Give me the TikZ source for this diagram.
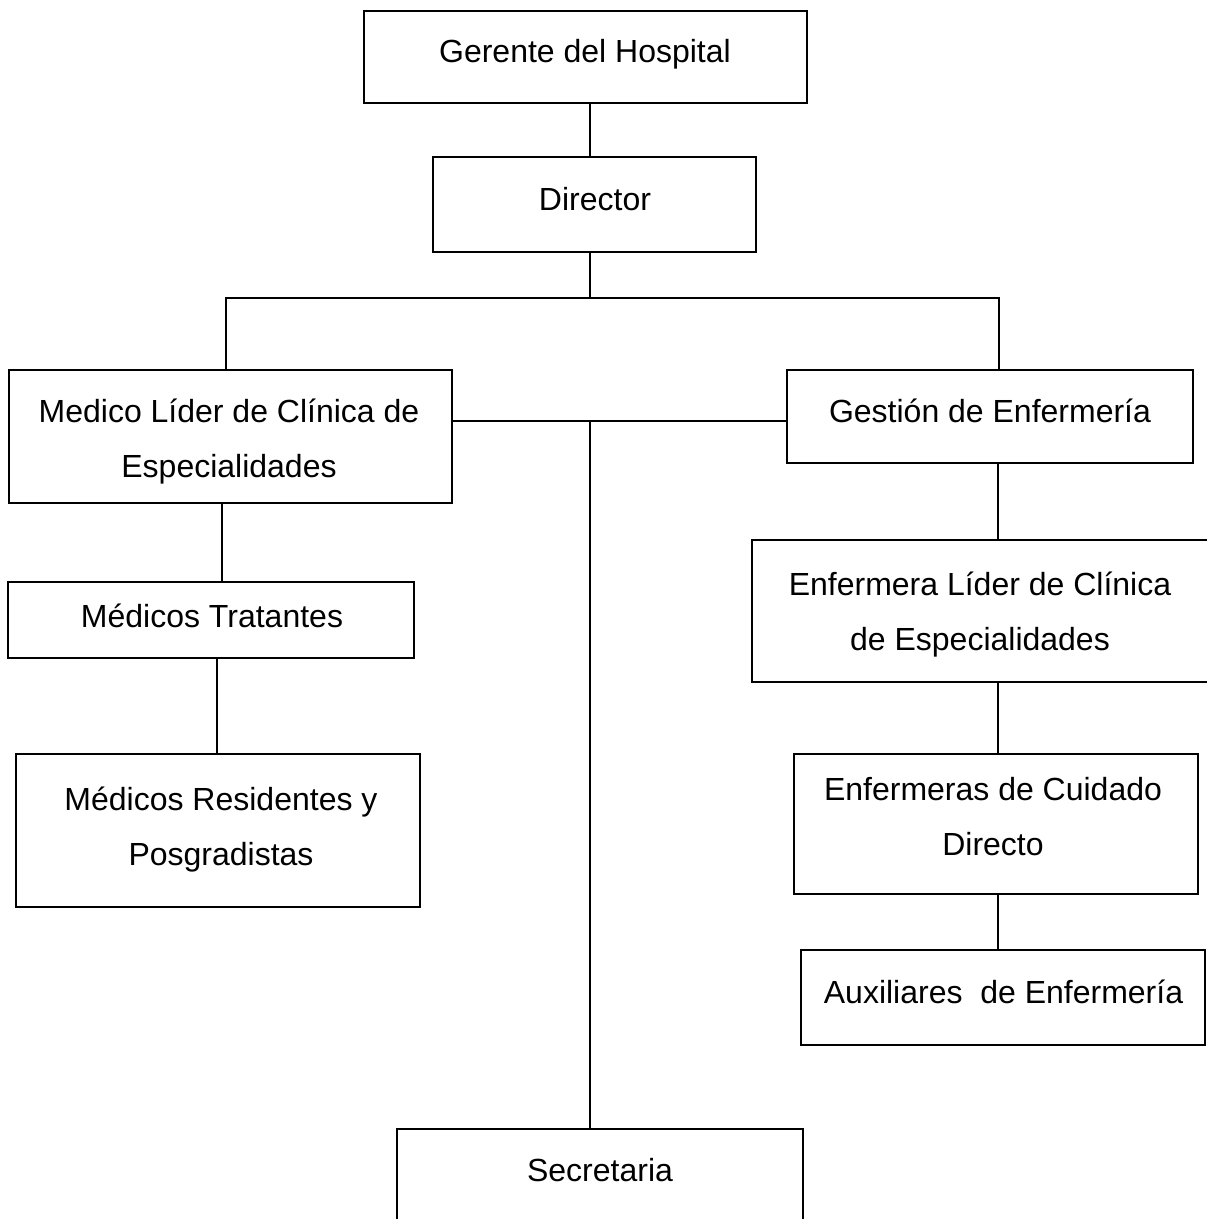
\documentclass[tikz,border=0pt]{standalone}
\usepackage{fontspec}
\setmainfont{Liberation Sans}
\begin{document}
\begin{tikzpicture}[x=1pt,y=-1pt,
  box/.style={draw=black,line width=1.5pt,rectangle,inner sep=0pt,outer sep=0pt,fill=white},
  lbl/.style={anchor=base,align=center,inner sep=0pt,font=\fontsize{32}{55}\selectfont},
  link/.style={draw=black,line width=1.5pt}]
\useasboundingbox[fill=white] (0,0) rectangle (1207,1219);

% boxes of the organisation chart
\node[box,minimum width=443pt,minimum height=92pt]  (ger) at (585.5,57)   {};
\node[box,minimum width=323pt,minimum height=95pt]  (dir) at (594.5,204.5) {};
\node[box,minimum width=443pt,minimum height=133pt] (med) at (230.5,436.5) {};
\node[box,minimum width=406pt,minimum height=93pt]  (ges) at (990,416.5)  {};
\node[box,minimum width=406pt,minimum height=76pt]  (tra) at (211,620)    {};
\node[box,minimum width=404pt,minimum height=153pt] (res) at (218,830.5)  {};
\node[box,minimum width=458pt,minimum height=142pt] (enf) at (981,611)    {};
\node[box,minimum width=404pt,minimum height=140pt] (cui) at (996,824)    {};
\node[box,minimum width=404pt,minimum height=95pt]  (aux) at (1003,997.5) {};
\node[box,minimum width=406pt,minimum height=93pt]  (sec) at (600,1175.5) {};

% labels (base anchor sits on the last line of each label)
\node[lbl] (tger) at (585,62)   {Gerente del Hospital};
\node[lbl] (tdir) at (595,210)  {Director};
\node[lbl] (tmed) at (229,477)  {Medico Líder de Clínica de\\Especialidades};
\node[lbl] (tges) at (990,422)  {Gestión de Enfermería};
\node[lbl] (ttra) at (212,627)  {Médicos Tratantes};
\node[lbl] (tres) at (221,865)  {Médicos Residentes y\\Posgradistas};
\node[lbl] (tenf) at (980,650)  {Enfermera Líder de Clínica\\de Especialidades};
\node[lbl] (tcui) at (993,855)  {Enfermeras de Cuidado\\Directo};
\node[lbl] (taux) at (1003.5,1003) {Auxiliares~\ de Enfermería};
\node[lbl] (tsec) at (600,1181) {Secretaria};

% branch points
\coordinate (bus) at (590,298);
\coordinate (lb)  at (226,298);
\coordinate (rb)  at (999,298);
\coordinate (mid) at (590,421);
\coordinate (c1)  at (222,0);
\coordinate (c2)  at (217,0);
\coordinate (c3)  at (998,0);

% connectors
\draw[link] (ger.south -| bus) -- (dir.north -| bus);
\draw[link] (dir.south -| bus) -- (bus);
\draw[link] (med.north -| lb) |- (rb) -- (ges.north -| rb);
\draw[link] (med.east |- mid) -- (ges.west |- mid);
\draw[link] (mid) -- (sec.north -| mid);
\draw[link] (med.south -| c1) -- (tra.north -| c1);
\draw[link] (tra.south -| c2) -- (res.north -| c2);
\draw[link] (ges.south -| c3) -- (enf.north -| c3);
\draw[link] (enf.south -| c3) -- (cui.north -| c3);
\draw[link] (cui.south -| c3) -- (aux.north -| c3);
\end{tikzpicture}
\end{document}
